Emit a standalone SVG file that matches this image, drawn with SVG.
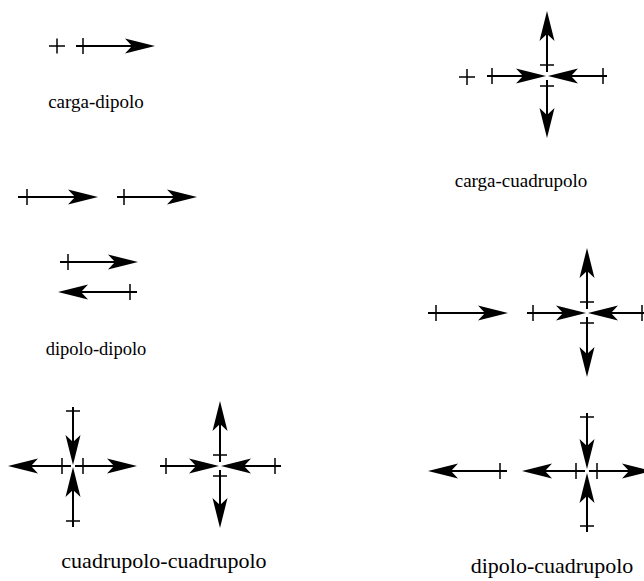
<svg xmlns="http://www.w3.org/2000/svg" width="644" height="581" viewBox="0 0 644 581">
<defs>
<style>
.ln{stroke:#000;stroke-width:2;fill:none;marker-end:url(#ah)}
.tk{stroke:#000;stroke-width:1.5;fill:none}
.lbl{font-family:"Liberation Serif","Times New Roman",serif;font-size:19px;fill:#000;text-anchor:middle}
.big{font-size:22px}
</style>
<marker id="ah" markerUnits="userSpaceOnUse" markerWidth="31" markerHeight="16" viewBox="0 -8 31 16" refX="7" refY="0" orient="auto" overflow="visible">
<path d="M0,-7.5 L30,0 L0,7.5 L7,0 Z" fill="#000"/>
</marker>
</defs>
<rect width="644" height="581" fill="#fff"/>

<g id="carga-dipolo">
<path class="tk" d="M49,46 H65 M57,38.5 V53.5"/>
<line class="ln" x1="76" y1="46" x2="132" y2="46"/>
<path class="tk" d="M83,38 V54"/>
<text class="lbl" x="96" y="108">carga-dipolo</text>
</g>

<g id="carga-cuadrupolo">
<path class="tk" d="M459,77 H475 M467,69 V85"/>
<line class="ln" x1="487" y1="76" x2="523" y2="76"/>
<line class="ln" x1="607" y1="76" x2="571" y2="76"/>
<line class="ln" x1="547" y1="72" x2="547" y2="34"/>
<line class="ln" x1="547" y1="80" x2="547" y2="115"/>
<path class="tk" d="M492,68 V84 M603,68 V84 M540,65 H554 M540,86 H554"/>
<text class="lbl" x="521" y="187">carga-cuadrupolo</text>
</g>

<g id="dipolo-dipolo">
<line class="ln" x1="18" y1="197" x2="75" y2="197"/>
<line class="ln" x1="117" y1="197" x2="174" y2="197"/>
<line class="ln" x1="60" y1="262" x2="115" y2="262"/>
<line class="ln" x1="137" y1="292" x2="81" y2="292"/>
<path class="tk" d="M27,189 V205 M124,189 V205 M68,254 V270 M130,284 V300"/>
<text class="lbl" x="96" y="355" style="font-size:18.5px">dipolo-dipolo</text>
</g>

<g id="dipolo-cuadrupolo-a">
<line class="ln" x1="428" y1="313" x2="485" y2="313"/>
<line class="ln" x1="527" y1="313" x2="563" y2="313"/>
<line class="ln" x1="650" y1="313" x2="611" y2="313"/>
<line class="ln" x1="587" y1="309" x2="587" y2="271"/>
<line class="ln" x1="587" y1="317" x2="587" y2="354"/>
<path class="tk" d="M436,305 V321 M533,305 V321 M642,305 V321 M580,302 H594 M580,323 H594"/>
</g>

<g id="cuadrupolo-cuadrupolo">
<line class="ln" x1="73" y1="407" x2="73" y2="442"/>
<line class="ln" x1="73" y1="527" x2="73" y2="490"/>
<line class="ln" x1="71" y1="466" x2="31" y2="466"/>
<line class="ln" x1="75" y1="466" x2="114" y2="466"/>
<path class="tk" d="M66,411 H80 M66,521 H80 M62,458 V474 M83,458 V474"/>
<line class="ln" x1="160" y1="466" x2="196" y2="466"/>
<line class="ln" x1="281" y1="466" x2="244" y2="466"/>
<line class="ln" x1="220" y1="462" x2="220" y2="424"/>
<line class="ln" x1="220" y1="470" x2="220" y2="505"/>
<path class="tk" d="M166,458 V474 M275,458 V474 M213,455 H227 M213,476 H227"/>
<text class="lbl big" x="164" y="568">cuadrupolo-cuadrupolo</text>
</g>

<g id="dipolo-cuadrupolo-b">
<line class="ln" x1="507" y1="471" x2="451" y2="471"/>
<line class="ln" x1="587" y1="413" x2="587" y2="446"/>
<line class="ln" x1="587" y1="532" x2="587" y2="496"/>
<line class="ln" x1="585" y1="471" x2="545" y2="471"/>
<line class="ln" x1="589" y1="471" x2="629" y2="471"/>
<path class="tk" d="M500,463 V479 M580,417 H594 M580,526 H594 M576,463 V479 M597,463 V479"/>
<text class="lbl big" x="552" y="573">dipolo-cuadrupolo</text>
</g>
</svg>
